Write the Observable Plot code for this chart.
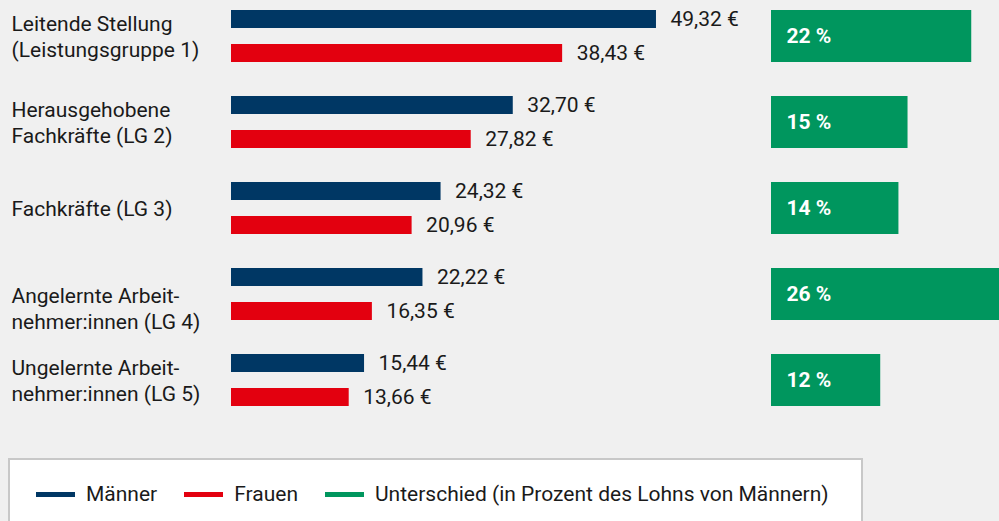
<!DOCTYPE html>
<html>
<head>
<meta charset="utf-8">
<script src="https://cdn.jsdelivr.net/npm/d3@7"></script>
<script src="https://cdn.jsdelivr.net/npm/@observablehq/plot@0.6"></script>
<style>
  html, body { margin: 0; padding: 0; background: #f0f0f0; overflow: hidden; }
  body { width: 999px; height: 521px; position: relative; font-family: Roboto, "Noto Sans", sans-serif; color: #1a1a1a; }
  #row { display: flex; position: absolute; left: 0; top: 0; }
  #legend { position: absolute; left: 8px; top: 458px; width: 851px; height: 100px; background: #fff; border: 2px solid #c8c8c8; box-sizing: content-box; }
  #legend .items { display: flex; align-items: center; padding-left: 26px; padding-top: 22px; height: 24px; font-size: 21px; line-height: 24px; }
  #legend .sw { display: inline-block; width: 39px; height: 5px; margin-right: 11px; }
  #legend .item { display: flex; align-items: center; margin-right: 27px; }
</style>
</head>
<body>
<div id="row"></div>
<div id="legend"><div class="items"></div></div>
<script>
const categories = [
  "Leitende Stellung\n(Leistungsgruppe 1)",
  "Herausgehobene\nFachkräfte (LG 2)",
  "Fachkräfte (LG 3)",
  "Angelernte Arbeit-\nnehmer:innen (LG 4)",
  "Ungelernte Arbeit-\nnehmer:innen (LG 5)"
];
const maenner = [49.32, 32.70, 24.32, 22.22, 15.44];
const frauen = [38.43, 27.82, 20.96, 16.35, 13.66];
const unterschied = [22, 15, 14, 26, 12];
const seriesNames = ["Männer", "Frauen", "Unterschied (in Prozent des Lohns von Männern)"];
const colors = ["#003764", "#e3000f", "#00965e"];

const rows = categories.map((cat, i) => ({cat, m: maenner[i], f: frauen[i], u: unterschied[i], i}));
const eur = v => v.toFixed(2).replace(".", ",") + " €";
const font = "Roboto, 'Noto Sans', sans-serif";

const yScale = {domain: categories, paddingInner: 34 / 86, paddingOuter: 0, round: false, axis: null};

const left = Plot.plot({
  width: 771, height: 458,
  marginLeft: 231, marginRight: 23, marginTop: 10, marginBottom: 52,
  x: {domain: [0, 60], axis: null},
  y: yScale,
  style: {background: "transparent", fontFamily: font, fontSize: "21px", color: "#1a1a1a"},
  marks: [
    Plot.barX(rows, {x: "m", y: "cat", fill: colors[0], insetBottom: 34}),
    Plot.barX(rows, {x: "f", y: "cat", fill: colors[1], insetTop: 34}),
    Plot.text(rows, {x: "m", y: "cat", text: d => eur(d.m), dx: 14, dy: -17, textAnchor: "start", fontSize: 21, fill: "#1a1a1a"}),
    Plot.text(rows, {x: "f", y: "cat", text: d => eur(d.f), dx: 14, dy: 17, textAnchor: "start", fontSize: 21, fill: "#1a1a1a"}),
    Plot.text(rows, {filter: d => d.i !== 3, y: "cat", text: "cat", frameAnchor: "left", dx: -220, dy: -1, textAnchor: "start", fontSize: 21, lineHeight: 26 / 21, fill: "#1a1a1a"}),
    Plot.text(rows, {filter: d => d.i === 3, y: "cat", text: "cat", frameAnchor: "left", dx: -220, dy: 13, textAnchor: "start", fontSize: 21, lineHeight: 26 / 21, fill: "#1a1a1a"})
  ]
});

const right = Plot.plot({
  width: 228, height: 458,
  marginLeft: 0, marginRight: 0, marginTop: 10, marginBottom: 52,
  x: {domain: [0, 25.05], axis: null},
  y: yScale,
  style: {background: "transparent", fontFamily: font, fontSize: "21px"},
  marks: [
    Plot.barX(rows, {x: "u", y: "cat", fill: colors[2]}),
    Plot.text(rows, {y: "cat", text: d => d.u + " %", frameAnchor: "left", dx: 15, textAnchor: "start", fill: "#fff", fontWeight: "bold", fontSize: 21})
  ]
});

const row = document.getElementById("row");
row.appendChild(left);
row.appendChild(right);

const items = document.querySelector("#legend .items");
seriesNames.forEach((name, i) => {
  const it = document.createElement("span");
  it.className = "item";
  const sw = document.createElement("span");
  sw.className = "sw";
  sw.style.background = colors[i];
  const tx = document.createElement("span");
  tx.textContent = name;
  it.appendChild(sw);
  it.appendChild(tx);
  items.appendChild(it);
});
</script>
</body>
</html>
